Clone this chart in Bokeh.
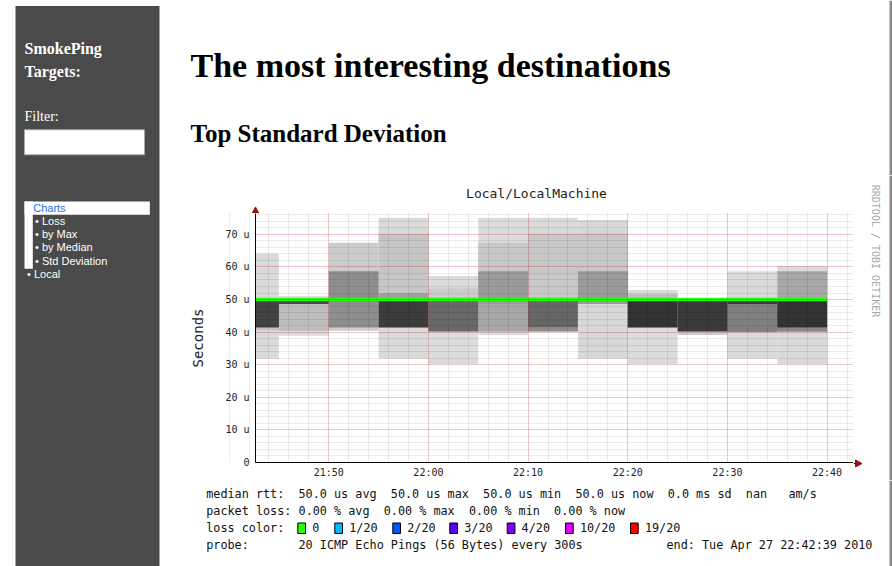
from datetime import datetime, timedelta
import math
import re
from bokeh.plotting import figure
from bokeh.layouts import row, column
from bokeh.models import Range1d, FixedTicker, ColumnDataSource, DatetimeTickFormatter
from bokeh.core.properties import value
from bokeh.embed import file_html
from bokeh.resources import INLINE

# ---------------- data ----------------
DAY = "2010-04-27"
col_start = ["21:40", "21:45", "21:50", "21:55", "22:00", "22:05",
             "22:10", "22:15", "22:20", "22:25", "22:30", "22:35"]
step_seconds = 300
graph_end = "22:42:39"
graph_span_seconds = 3600

# smoke bands (values in microseconds), drawn outer -> core
outer_lo = [31.8, 38.9, 40.4, 31.8, 30.2, 39.1, 40.2, 31.8, 30.2, 39.1, 31.8, 30.2]
outer_hi = [64.1, 51.0, 67.4, 75.1, 57.2, 75.1, 75.1, 74.4, 52.9, 50.3, 58.7, 60.2]
outer_shade = ["#dadada", "#dadada", "#cccccc", "#dadada", "#dcdcdc", "#dcdcdc",
               "#dadada", "#d8d8d8", "#dcdcdc", "#cccccc", "#dadada", "#dadada"]

mid_lo = [40.6, 40.4, None, 41.4, 40.2, 40.2, 40.4, 48.6, 41.4, None, 40.2, 40.2]
mid_hi = [50.5, 49.6, None, 70.2, 53.5, 67.4, 70.2, 70.3, 51.8, None, 49.6, 58.7]
mid_shade = ["#c4c4c4", "#bdbdbd", None, "#c6c6c6", "#cccccc", "#c8c8c8",
             "#c8c8c8", "#c8c8c8", "#c0c0c0", None, "#3a3a3a", "#a8a8a8"]

inner_lo = [None, None, None, 49.6, None, 40.2, 40.2, None, None, None, None, 40.2]
inner_hi = [None, None, None, 51.9, None, 48.6, 41.6, None, None, None, None, 41.4]
inner_shade = [None, None, None, "#a0a0a0", None, "#a8a8a8", "#8a8a8a",
               None, None, None, None, "#888888"]

core_lo = [41.4, 48.6, 41.4, 41.4, 40.2, 48.6, 41.6, 48.6, 41.4, 40.2, 40.2, 41.4]
core_hi = [49.6, 49.8, 58.7, 49.6, 49.6, 58.7, 50.0, 58.7, 49.6, 49.8, 48.6, 49.6]
core_shade = ["#424242", "#4a4a4a", "#8e8e8e", "#3c3c3c", "#686868", "#9a9a9a",
              "#666666", "#9a9a9a", "#333333", "#3a3a3a", "#808080", "#333333"]

median_rtt = [50.0, 50.0, 50.0, 50.0, 50.0, 50.0, 50.0, 50.0, 50.0, 50.0, 50.0, 50.0]
loss_idx = [0, 0, 0, 0, 0, 0, 0, 0, 0, 0, 0, 0]

loss_labels = ["0", "1/20", "2/20", "3/20", "4/20", "10/20", "19/20"]
loss_colors = ["#26ff00", "#00b8ff", "#0059ff", "#5e00ff", "#7e00ff", "#dd00ff", "#ff0000"]

y_tick_values = [0, 10, 20, 30, 40, 50, 60, 70]
y_tick_labels = ["0", "10 u", "20 u", "30 u", "40 u", "50 u", "60 u", "70 u"]
x_tick_labels = ["21:50", "22:00", "22:10", "22:20", "22:30", "22:40"]
y_max = 76.4

legend_lines = [
    "median rtt:  50.0 us avg  50.0 us max  50.0 us min  50.0 us now  0.0 ms sd  nan   am/s",
    "packet loss: 0.00 % avg  0.00 % max  0.00 % min  0.00 % now",
    "loss color:",
    "probe:       20 ICMP Echo Pings (56 Bytes) every 300s",
]
end_text = "end: Tue Apr 27 22:42:39 2010"
menu_items = ["\u2022 Loss", "\u2022 by Max", "\u2022 by Median", "\u2022 Std Deviation"]

SERIF = "Liberation Serif"
SANS = "Liberation Sans"
MONO = "DejaVu Sans Mono"
ARROW = "#991111"

# ---------------- helpers ----------------
EPOCH = datetime(1970, 1, 1)


def to_ms(dt):
    return (dt - EPOCH).total_seconds() * 1000.0


def parse(s):
    fmt = "%Y-%m-%d %H:%M:%S" if s.count(":") == 2 else "%Y-%m-%d %H:%M"
    return datetime.strptime(f"{DAY} {s}", fmt)


def pixfig(x0, x1, y0, y1):
    """Figure whose data units are page pixels (y grows downwards)."""
    f = figure(width=int(x1 - x0), height=int(y1 - y0), title=None,
               x_range=Range1d(x0, x1), y_range=Range1d(y1, y0),
               x_axis_location=None, y_axis_location=None,
               output_backend="svg", toolbar_location=None,
               min_border=0, outline_line_color=None)
    f.grid.visible = False
    f.background_fill_color = "white"
    f.border_fill_color = "white"
    f.frame_align = False
    return f


def txt(f, s, x, y, size, font, color="black", style="normal", align="left",
        baseline="middle", angle=0.0):
    f.text(x=[x], y=[y], text=[s], text_font=value(font), text_font_size=value(size),
           text_font_style=style, text_color=color, text_align=align,
           text_baseline=baseline, angle=angle)


def rect(f, l, r, t, b, fill, line=None, lw=1):
    f.quad(left=[l], right=[r], top=[t], bottom=[b], fill_color=fill,
           line_color=line, line_width=lw)


PAGE_W, PAGE_H = 892, 566

# ---------------- sidebar ----------------
side = pixfig(0, 160, 0, PAGE_H)
rect(side, 15, 159, 5.5, PAGE_H, "#4a4a4a")
txt(side, "SmokePing", 24, 48.2, "16px", SERIF, "white", "bold")
txt(side, "Targets:", 24, 71.0, "16px", SERIF, "white", "bold")
txt(side, "Filter:", 24, 116.0, "14px", SERIF, "white")
rect(side, 24, 144, 129.3, 154.3, "white", "#a8a8a8")
rect(side, 24, 149.3, 201, 214.3, "white")
rect(side, 24, 32.3, 201, 268.3, "white")
txt(side, "Charts", 32.7, 207.0, "11px", SANS, "#1f6fe0")
for i, item in enumerate(menu_items):
    txt(side, item, 34.5, 220.2 + i * 13.3, "11px", SANS, "white")
txt(side, "\u2022 Local", 26.5, 273.8, "11px", SANS, "white")

# ---------------- header ----------------
head = pixfig(160, PAGE_W, 0, 175)
txt(head, "The most interesting destinations", 190, 64.5, "34px", SERIF, "black", "bold")
txt(head, "Top Standard Deviation", 190, 132.5, "25px", SERIF, "black", "bold")
rect(head, 889, 892, 0, 175, "#8a8a8a")

# ---------------- chart title strip ----------------
ttl = pixfig(160, 853, 175, 213)
txt(ttl, "Local/LocalMachine", 536, 192.5, "13px", MONO, "#222222", align="center")
ttl.line(x=[255, 255], y=[209, 213], line_color="black", line_width=1)
ttl.patch(x=[251.5, 258.5, 255], y=[213, 213, 206.5], fill_color=ARROW, line_color=ARROW)

# ---------------- chart ----------------
starts = [parse(s) for s in col_start]
ends = [s + timedelta(seconds=step_seconds) for s in starts]
x_end = parse(graph_end)
x_begin = x_end - timedelta(seconds=graph_span_seconds)

p = figure(width=693, height=267, x_axis_type="datetime", title=None,
           output_backend="svg", toolbar_location=None,
           x_range=Range1d(to_ms(x_begin), to_ms(x_end)),
           y_range=Range1d(0, y_max),
           min_border_left=95, min_border_right=0,
           min_border_top=0, min_border_bottom=17)
p.frame_align = False
p.outline_line_color = None
p.background_fill_color = "white"
p.border_fill_color = "white"

layers = [(outer_lo, outer_hi, outer_shade), (mid_lo, mid_hi, mid_shade),
          (inner_lo, inner_hi, inner_shade), (core_lo, core_hi, core_shade)]
for lo, hi, shade in layers:
    d = dict(left=[], right=[], bottom=[], top=[], color=[])
    for i in range(len(starts)):
        if lo[i] is None:
            continue
        d["left"].append(to_ms(starts[i]))
        d["right"].append(to_ms(ends[i]))
        d["bottom"].append(lo[i])
        d["top"].append(hi[i])
        d["color"].append(shade[i])
    p.quad(left="left", right="right", bottom="bottom", top="top",
           fill_color="color", line_color=None, source=ColumnDataSource(d))

p.segment(x0=[to_ms(s) for s in starts], x1=[to_ms(e) for e in ends],
          y0=median_rtt, y1=median_rtt,
          line_color=[loss_colors[k] for k in loss_idx], line_width=3.5,
          line_cap="butt")

x_major = [to_ms(parse(s)) for s in x_tick_labels]
x_minor = []
t = parse("21:40")
while t <= x_end:
    x_minor.append(to_ms(t))
    t += timedelta(minutes=2)
p.xaxis.ticker = FixedTicker(ticks=x_major, minor_ticks=x_minor)
p.xaxis.formatter = DatetimeTickFormatter(minutes="%H:%M", hourmin="%H:%M",
                                          hours="%H:%M", minsec="%H:%M")
y_minor = [v for v in range(0, int(y_max) + 1, 2)]
p.yaxis.ticker = FixedTicker(ticks=y_tick_values, minor_ticks=y_minor)
p.yaxis.major_label_overrides = dict(zip(y_tick_values, y_tick_labels))

for ax in (p.xaxis[0], p.yaxis[0]):
    ax.axis_line_color = "black"
    ax.axis_line_width = 1
    ax.major_tick_in = 0
    ax.major_tick_out = 0
    ax.minor_tick_in = 0
    ax.minor_tick_out = 0
    ax.major_label_text_font = MONO
    ax.major_label_text_font_size = "10px"
    ax.major_label_text_color = "#222222"
p.xaxis.major_label_standoff = 4
p.yaxis.major_label_standoff = 6
p.yaxis.axis_label = "Seconds"
p.yaxis.axis_label_text_font = MONO
p.yaxis.axis_label_text_font_size = "14px"
p.yaxis.axis_label_text_font_style = "normal"
p.yaxis.axis_label_text_color = "#222222"
p.yaxis.axis_label_standoff = 16

for g in (p.xgrid[0], p.ygrid[0]):
    g.grid_line_color = "#ff0000"
    g.grid_line_alpha = 0.3
    g.grid_line_dash = "1 1"
    g.minor_grid_line_color = "#000000"
    g.minor_grid_line_alpha = 0.16
    g.minor_grid_line_dash = "1 1"
    g.level = "guide"

# ---------------- right strip ----------------
strip = pixfig(853, PAGE_W, 175, 480)
strip.line(x=[853, 857], y=[463, 463], line_color="black", line_width=1)
strip.patch(x=[855, 855, 861.5], y=[459.5, 466.5, 463], fill_color=ARROW, line_color=ARROW)
txt(strip, "RRDTOOL / TOBI OETIKER", 875, 250.5, "10px", MONO, "#a8a8a8",
    align="center", baseline="middle", angle=-math.pi / 2)
rect(strip, 889, 892, 175, 480, "#8a8a8a")

# ---------------- legend ----------------
leg = pixfig(160, PAGE_W, 480, PAGE_H)
LX = 205.7
CW = 7.1  # monospace advance at 11.8px
line_y = [493, 510, 527, 544]
for s_, yy in zip(legend_lines, line_y):
    for m in re.finditer(r"\S+(?: \S+)*", s_):
        txt(leg, m.group(0), LX + m.start() * CW, yy, "11.8px", MONO, "#111111")
box_x = [297.3, 334.3, 392.3, 449.3, 506.7, 565.0, 630.0]
for bx, c, t_ in zip(box_x, loss_colors, loss_labels):
    rect(leg, bx, bx + 7.7, 522.5, 533.0, c, "black", 1)
    txt(leg, t_, bx + 14.4, 527, "11.8px", MONO, "#111111")
txt(leg, end_text, 666, 544, "11.8px", MONO, "#111111")
rect(leg, 889, 892, 480, PAGE_H, "#8a8a8a")

root = row(side, column(head, row(column(ttl, p), strip), leg))
open("out.html", "w").write(file_html(root, INLINE))
